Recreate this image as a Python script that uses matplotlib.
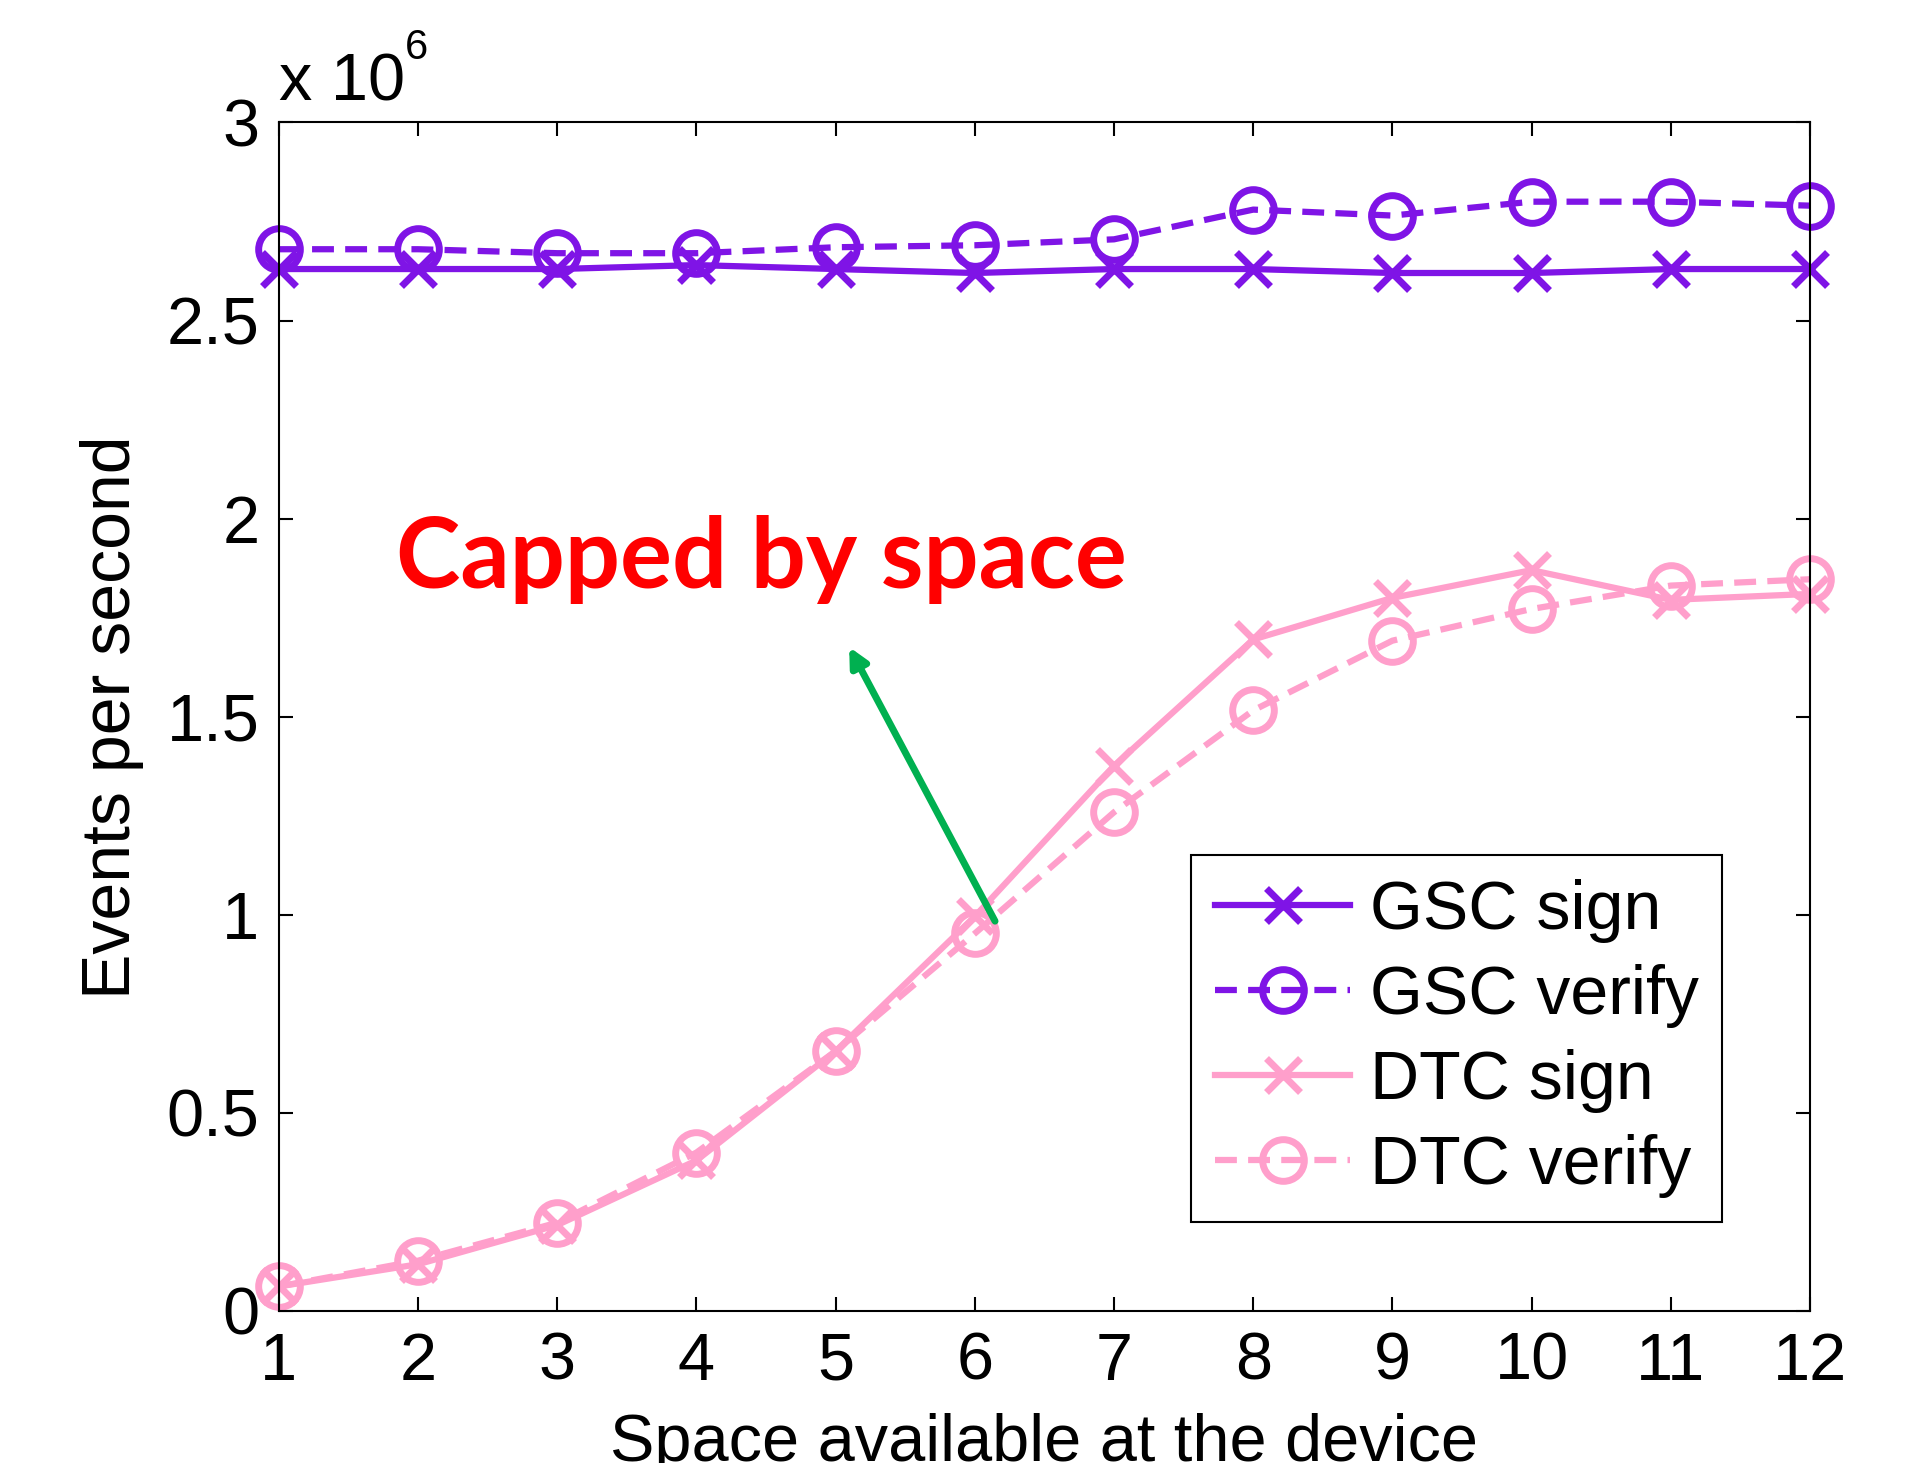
import numpy as np
import matplotlib
matplotlib.use("Agg")
import matplotlib.pyplot as plt
from matplotlib.ticker import FuncFormatter

plt.rcParams['font.family'] = ['Liberation Sans', 'DejaVu Sans']

# space available at the device
space = [1, 2, 3, 4, 5, 6, 7, 8, 9, 10, 11, 12]

# events per second, in units of 10^6
gsc_sign = [2.63, 2.63, 2.63, 2.64, 2.63, 2.62, 2.63, 2.63, 2.62, 2.62, 2.63, 2.63]
gsc_verify = [2.68, 2.68, 2.67, 2.67, 2.685, 2.69, 2.705, 2.78, 2.765, 2.80, 2.80, 2.79]
dtc_sign = [0.062, 0.118, 0.217, 0.38, 0.656, 0.996, 1.376, 1.695, 1.80, 1.87, 1.795, 1.81]
dtc_verify = [0.062, 0.127, 0.223, 0.40, 0.656, 0.953, 1.259, 1.516, 1.692, 1.772, 1.831, 1.847]

purple = '#7F14E6'
pink = '#FF9FCB'

fig = plt.figure(figsize=(19.21, 14.63), dpi=100)
ax = fig.add_axes([0.1452, 0.1039, 0.797, 0.8124])

lw = 4.5
ax.plot(space, gsc_sign, '-', color=purple, lw=lw, marker='x', ms=24, mew=5,
        label='GSC sign', clip_on=False)
ax.plot(space, gsc_verify, '--', color=purple, lw=lw, marker='o', ms=30, mew=5,
        mfc='none', dashes=(3.5, 1.8), label='GSC verify', clip_on=False)
ax.plot(space, dtc_sign, '-', color=pink, lw=lw, marker='x', ms=24, mew=5,
        label='DTC sign', clip_on=False)
ax.plot(space, dtc_verify, '--', color=pink, lw=lw, marker='o', ms=30, mew=5,
        mfc='none', dashes=(3.5, 1.8), label='DTC verify', clip_on=False)

ax.set_xlim(1, 12)
ax.set_ylim(0, 3)
ax.set_xticks(space)
ax.set_yticks([0, 0.5, 1, 1.5, 2, 2.5, 3])
ax.yaxis.set_major_formatter(FuncFormatter(lambda v, p: '%g' % v))
ax.tick_params(direction='in', length=10, width=1.5, labelsize=48,
               top=True, right=True)
ax.tick_params(axis='x', pad=15)
ax.tick_params(axis='y', pad=14)
for s in ax.spines.values():
    s.set_linewidth(1.5)

ax.set_xlabel('Space available at the device', fontsize=48)
ax.set_ylabel('Events per second', fontsize=49)
ax.xaxis.set_label_coords(0.5, -0.086)
ax.yaxis.set_label_coords(-0.088, 0.5)

# MATLAB style exponent label above the y axis
ax.annotate('x 10', xy=(0, 1), xycoords='axes fraction', xytext=(0, 16),
            textcoords='offset points', fontsize=48, ha='left', va='baseline')
ax.annotate('6', xy=(0, 1), xycoords='axes fraction', xytext=(90.5, 46),
            textcoords='offset points', fontsize=30, ha='left', va='baseline')

ax.text(1.84, 1.825, 'Capped by space', color='#FF0000', fontsize=70,
        fontweight='bold', family=['Lato', 'DejaVu Sans'], ha='left', va='baseline')
ax.annotate('', xy=(5.097, 1.676), xytext=(6.145, 0.984),
            arrowprops=dict(arrowstyle='-|>,head_length=1.1,head_width=0.55',
                            color='#00B050', lw=5, shrinkA=0, shrinkB=0))

leg = ax.legend(loc='upper left', bbox_to_anchor=(0.596, 0.3835), borderaxespad=0,
                fontsize=49, fancybox=False, edgecolor='black', framealpha=1,
                handlelength=1.98, handletextpad=0.29, labelspacing=0.31,
                borderpad=0.35)
leg.get_frame().set_linewidth(1.5)

fig.savefig('out.png', dpi=100)
